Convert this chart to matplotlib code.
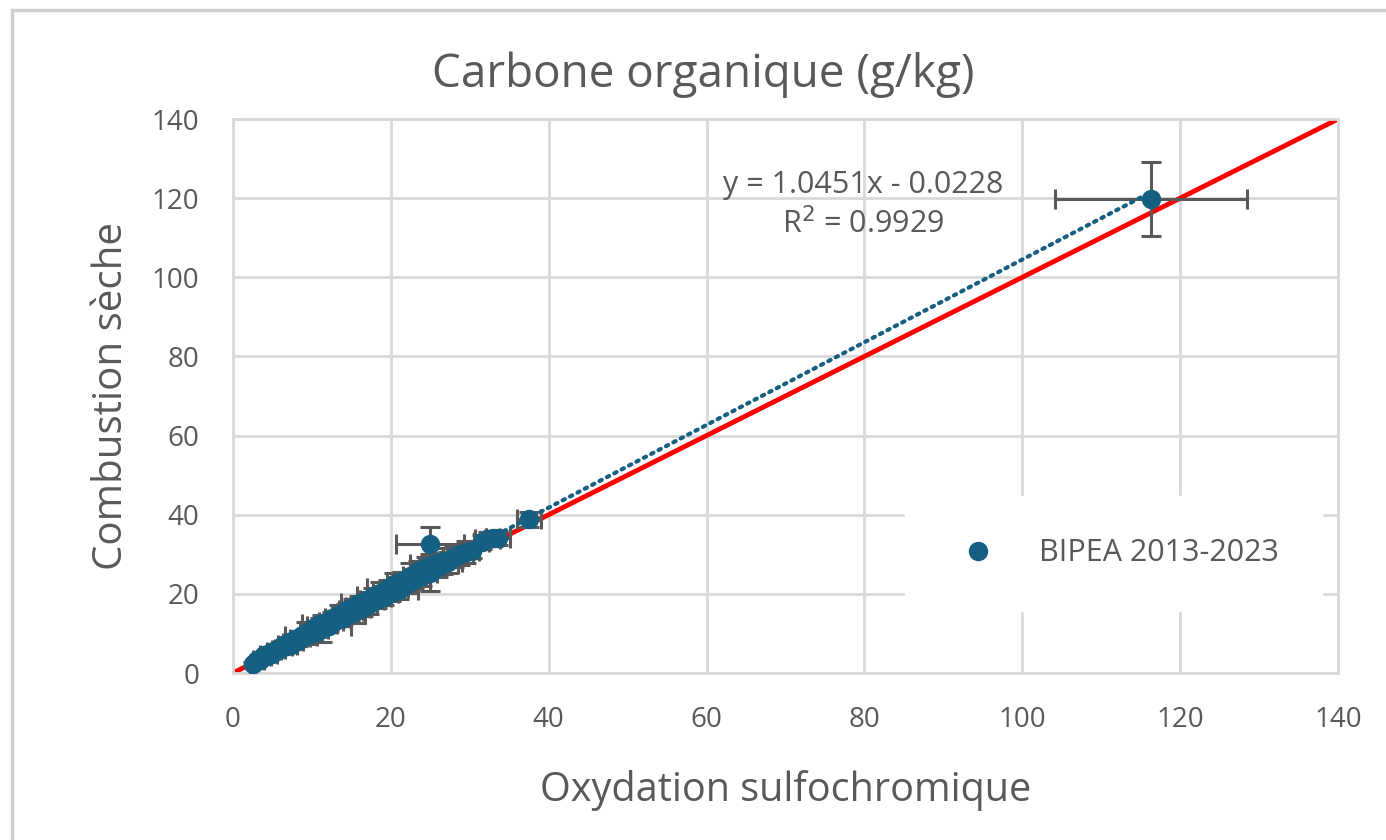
import numpy as np
import matplotlib.pyplot as plt
from matplotlib.patches import Rectangle

# -----------------------------
# Data
# -----------------------------
x_sulfo = [2.5, 3.0, 3.5, 4.0, 4.3, 4.8, 5.0, 5.5, 6.0, 6.3, 6.8, 7.0, 7.4, 7.9,
           8.2, 8.6, 9.0, 9.3, 9.8, 10.2, 10.5, 11.0, 11.3, 11.8, 12.2, 12.6,
           13.0, 13.5, 14.0, 14.3, 14.8, 15.2, 15.6, 16.0, 16.5, 17.0, 17.3,
           17.8, 18.2, 18.7, 19.1, 19.6, 20.0, 20.4, 21.0, 21.4, 22.0, 22.5,
           23.0, 23.4, 24.0, 24.5, 25.0, 25.5, 26.0, 26.6, 27.2, 28.0, 28.8,
           29.5, 30.3, 31.5, 32.3, 33.0, 33.6, 37.5, 116.3, 25.0]
y_combust = [2.3, 3.2, 3.4, 4.6, 4.2, 5.3, 4.8, 5.9, 6.0, 7.0, 6.9, 7.6, 7.2, 8.6,
             8.1, 9.3, 9.0, 10.2, 9.9, 11.3, 10.4, 12.4, 11.2, 13.0, 12.0, 13.9,
             13.2, 14.6, 14.0, 15.8, 15.0, 16.8, 15.6, 17.6, 16.4, 18.5, 17.5,
             19.5, 18.4, 20.2, 19.2, 21.5, 20.2, 22.4, 21.0, 23.3, 22.4, 24.6,
             23.6, 25.8, 24.5, 26.9, 25.4, 27.6, 26.8, 28.3, 28.0, 29.4, 30.0,
             30.6, 30.9, 33.2, 33.8, 34.0, 34.2, 38.8, 119.8, 32.5]
x_err = [0.3, 0.4, 0.4, 0.5, 0.5, 0.5, 0.6, 0.6, 0.6, 0.6, 0.7, 0.7, 0.7, 0.7,
         0.7, 2.0, 0.8, 0.8, 0.8, 0.8, 0.8, 2.2, 0.8, 0.9, 2.8, 0.9, 0.9, 0.9,
         0.9, 0.9, 2.0, 0.9, 0.9, 2.3, 0.9, 0.9, 0.9, 2.1, 0.9, 0.9, 0.9, 2.6,
         0.9, 0.9, 2.4, 0.9, 0.9, 0.9, 0.9, 0.9, 1.0, 0.9, 0.9, 3.0, 1.0, 0.9,
         1.8, 0.9, 0.9, 0.9, 0.9, 0.9, 1.6, 0.9, 1.5, 1.5, 12.2, 4.3]
y_err = [0.5, 0.6, 0.7, 0.8, 0.8, 0.9, 0.9, 1.0, 1.0, 1.0, 1.1, 1.1, 1.1, 1.2,
         1.2, 1.2, 1.3, 2.8, 1.3, 1.4, 1.4, 1.5, 3.4, 1.5, 1.5, 1.6, 1.6, 2.6,
         1.7, 1.7, 1.8, 1.8, 3.0, 1.8, 1.9, 1.9, 2.6, 2.0, 2.0, 2.9, 2.0, 2.1,
         2.1, 3.0, 2.2, 2.2, 2.3, 3.2, 2.3, 2.4, 2.4, 2.5, 4.8, 2.5, 2.6, 3.4,
         2.6, 2.7, 2.7, 2.8, 1.8, 1.8, 1.8, 1.8, 1.8, 1.8, 9.4, 4.5]

slope, intercept, r2 = 1.0451, -0.0228, 0.9929
axis_max = 140

blue = "#156082"
grey_txt = "#595959"
grid_col = "#d9d9d9"

plt.rcParams["font.family"] = ["Open Sans", "DejaVu Sans"]

fig = plt.figure(figsize=(13.86, 8.4), dpi=100)
ax = fig.add_axes([0.168, 0.1988, 0.7974, 0.6595])

# outer chart border
fig.patches.append(Rectangle((12 / 1386, -0.1), 1.2, 1.1 - 10 / 840,
                             transform=fig.transFigure, fill=False,
                             edgecolor="#d0d0d0", linewidth=2.5))

# y = x reference line
ax.plot([0, axis_max], [0, axis_max], color="red", linewidth=3.5, zorder=2)

# error bars + points
ax.errorbar(x_sulfo, y_combust, xerr=x_err, yerr=y_err, fmt="none",
            ecolor=grey_txt, elinewidth=2.2, capsize=7, capthick=2.2, zorder=3)
ax.plot(x_sulfo, y_combust, "o", color=blue, markersize=13,
        label="BIPEA 2013-2023", zorder=4)

# linear trend (dotted)
xt = np.array([min(x_sulfo), max(x_sulfo)])
ax.plot(xt, slope * xt + intercept, linestyle=(0, (0.6, 1.4)), color=blue,
        linewidth=3, dash_capstyle="round", zorder=5)
ax.text(79.8, 118.3, f"y = {slope:.4f}x - {abs(intercept):.4f}\nR$^2$ = {r2:.4f}",
        ha="center", va="center", fontsize=22, color=grey_txt,
        linespacing=1.3, zorder=6)

ax.set_xlim(0, axis_max)
ax.set_ylim(0, axis_max)
ax.set_xticks(range(0, axis_max + 1, 20))
ax.set_yticks(range(0, axis_max + 1, 20))
ax.grid(True, color=grid_col, linewidth=2)
ax.set_axisbelow(True)
for s in ax.spines.values():
    s.set_color(grid_col)
    s.set_linewidth(2)
ax.tick_params(length=0, labelsize=20, labelcolor=grey_txt)
ax.tick_params(axis="x", pad=24)
ax.tick_params(axis="y", pad=24)

# title is centred on the whole chart area, not on the plot area
fig.text(703 / 1386, 1 - 75 / 840, "Carbone organique (g/kg)", fontsize=33,
         color=grey_txt, ha="center", va="center")
ax.set_xlabel("Oxydation sulfochromique", fontsize=28.5, color=grey_txt, labelpad=26)
ax.set_ylabel("Combustion sèche", fontsize=29, color=grey_txt, labelpad=14)

leg = ax.legend(loc="center left", bbox_to_anchor=(0.608, 0.216), frameon=True,
                fontsize=22, labelcolor=grey_txt, handletextpad=1.0,
                borderpad=1.4, borderaxespad=0)
leg.get_frame().set_edgecolor("white")
leg.get_frame().set_facecolor("white")
leg.get_frame().set_alpha(1)
leg.get_frame().set_boxstyle("square", pad=0)

fig.savefig("out.png", dpi=100, facecolor="white")
